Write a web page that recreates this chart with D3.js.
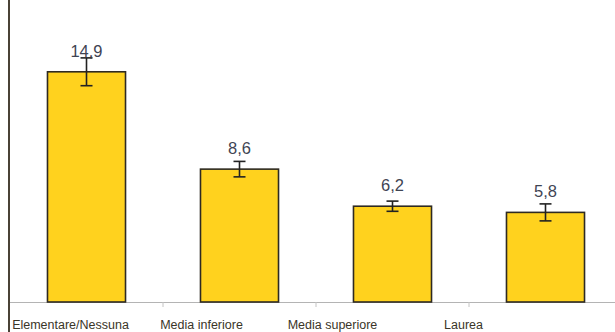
<!DOCTYPE html>
<html><head><meta charset="utf-8">
<script src="https://cdn.jsdelivr.net/npm/d3@7"></script>
<style>html,body{margin:0;padding:0;background:#fff;}svg{display:block;}</style>
</head><body>
<svg id="c" width="615" height="332"></svg>
<script>
const categories = ["Elementare/Nessuna", "Media inferiore", "Media superiore", "Laurea"];
const values = [14.9, 8.6, 6.2, 5.8];
const errors = [0.9, 0.5, 0.33, 0.55];
const valueLabels = ["14,9", "8,6", "6,2", "5,8"];

const svg = d3.select("#c");
const baseY = 302;
const y = d3.scaleLinear().domain([0, 20]).range([baseY, baseY - 20 * 15.45]);
const x = d3.scaleBand().domain(categories).range([10, 622]).paddingInner(0.49).paddingOuter(0.245);
const xl = d3.scaleBand().domain(categories).range([5, 529]);

// baseline
svg.append("line").attr("x1", 9).attr("x2", 615).attr("y1", baseY + 0.5).attr("y2", baseY + 0.5)
  .attr("stroke", "#b4b4b4").attr("stroke-width", 1);
// ticks at category boundaries
const bounds = d3.scaleBand().domain(categories).range([10, 622]);
categories.slice(1).forEach(c => {
  const tx = bounds(c);
  svg.append("line").attr("x1", tx).attr("x2", tx).attr("y1", baseY).attr("y2", baseY + 5)
    .attr("stroke", "#c4c4c4").attr("stroke-width", 1);
});

// bars
svg.selectAll("rect.bar").data(values).join("rect")
  .attr("x", (d, i) => x(categories[i]))
  .attr("width", x.bandwidth())
  .attr("y", d => y(d))
  .attr("height", d => baseY - y(d))
  .attr("fill", "#FFD21E").attr("stroke", "#2e2a22").attr("stroke-width", 1.6);

// error bars
values.forEach((v, i) => {
  const cx = x(categories[i]) + x.bandwidth() / 2;
  const g = svg.append("g").attr("stroke", "#222").attr("stroke-width", 1.6);
  g.append("line").attr("x1", cx).attr("x2", cx).attr("y1", y(v + errors[i])).attr("y2", y(v - errors[i]));
  g.append("line").attr("x1", cx - 6).attr("x2", cx + 6).attr("y1", y(v + errors[i])).attr("y2", y(v + errors[i]));
  g.append("line").attr("x1", cx - 6).attr("x2", cx + 6).attr("y1", y(v - errors[i])).attr("y2", y(v - errors[i]));
  svg.append("text").attr("x", cx).attr("y", y(v) - 15).attr("text-anchor", "middle")
    .attr("font-family", "Liberation Sans, Arial, sans-serif").attr("font-size", 16.5)
    .attr("fill", "#3f4453").text(valueLabels[i]);
});

// category labels
categories.forEach(c => {
  svg.append("text").attr("x", xl(c) + xl.bandwidth() / 2).attr("y", 329).attr("text-anchor", "middle")
    .attr("font-family", "Liberation Sans, Arial, sans-serif").attr("font-size", 12.5)
    .attr("fill", "#3a3528").text(c);
});

// left axis
svg.append("line").attr("x1", 9).attr("x2", 9).attr("y1", 0).attr("y2", 332)
  .attr("stroke", "#4a4236").attr("stroke-width", 2);
</script>
</body></html>
